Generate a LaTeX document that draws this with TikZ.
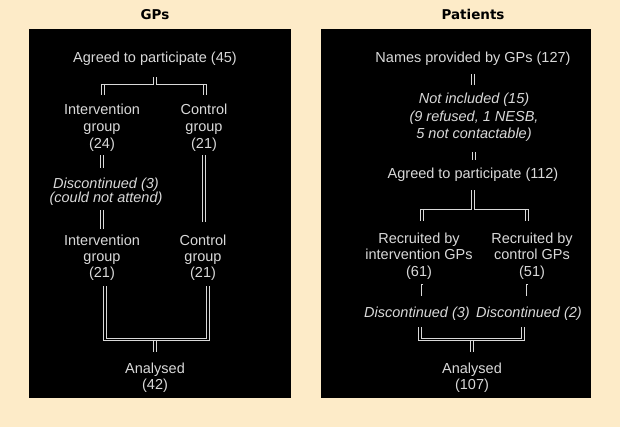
\documentclass[tikz,border=0pt]{standalone}
\usepackage{fontspec}
\setmainfont{Liberation Sans}
\newfontfamily\titlefont{DejaVu Sans}
\usetikzlibrary{calc}
\definecolor{bgc}{HTML}{FDEBC8}
\definecolor{tcol}{gray}{0.85}
\newcommand\sth{\rule{0pt}{12pt}}
\newcommand\std{\rule[-5pt]{0pt}{5pt}}
\begin{document}
\begin{tikzpicture}[x=1pt,y=-1pt,
  txt/.style={text=tcol, align=center, inner sep=0pt, anchor=north, font=\fontsize{14.5}{17}\selectfont},
  itx/.style={txt, font=\fontsize{14.5}{#1}\selectfont\itshape},
  spc/.style={txt, font=\fontsize{14.5}{#1}\selectfont},
  ttl/.style={anchor=base, inner sep=0pt, text=black, font=\titlefont\bfseries\fontsize{13.5}{16}\selectfont},
  conn/.style={draw=tcol, line width=0.8pt, double=black, double distance=1.8pt},
  hline/.style={draw=tcol, line width=1pt},
  thinl/.style={draw=tcol, line width=0.7pt}
]
\fill[bgc] (0,0) rectangle (620,427);
\fill[black] (29,29) rectangle (291,398);
\fill[black] (321,29) rectangle (591,398);

\node[ttl] (tgp) at (155,20) {GPs};
\node[ttl] (tpa) at (473,20) {Patients};

% left panel
\node[txt] (agl) at (155,50) {\sth Agreed to participate (45)\std};
\node[spc=17] (il1) at (102,102) {\sth Intervention\\group\\(24)\std};
\node[spc=17] (cl1) at (204,102) {\sth Control\\group\\(21)\std};
\node[itx=14] (dl) at (106,176) {\sth Discontinued (3)\\(could not attend)\std};
\node[spc=16] (il2) at (102,233) {\sth Intervention\\group\\(21)\std};
\node[spc=16] (cl2) at (203,233) {\sth Control\\group\\(21)\std};
\node[spc=16.5] (al) at (155,361) {\sth Analysed\\(42)\std};

\coordinate (jl1) at (155,84.6);
\coordinate (jl2) at (155,339);
\draw[hline] ($(il1.north)+(-0.7,-17)$) -- ($(cl1.north)+(2.7,-17)$);
\draw[conn] ($(il1.north)+(1,-17.4)$) -- ($(il1.north)+(1,-7)$);
\draw[conn] ($(cl1.north)+(1,-17.4)$) -- ($(cl1.north)+(1,-7)$);
\draw[conn, shorten <=10pt] (agl.south) -- (jl1);
\draw[conn, shorten <=2pt, shorten >=8pt] (il1.south) -- (il1.south |- dl.north);
\draw[conn, shorten <=3pt, shorten >=4pt] (il2.north |- dl.south) -- (il2.north);
\draw[conn, shorten <=2pt, shorten >=11pt] (cl1.south) -- (cl1.south |- cl2.north);
\draw[conn] ($(il2.south)+(3,4)$) -- ($(il2.south)+(3,57)$) -- ($(cl2.south)+(5,57)$) -- ($(cl2.south)+(5,4)$);
\draw[conn, shorten >=9pt] ($(jl2)+(0,1.5)$) -- (al.north);

% right panel
\node[txt] (np) at (473,50) {\sth Names provided by GPs (127)\std};
\node[itx=17.5] (ni) at (474,91.5) {\sth Not included (15)\\(9 refused, 1 NESB,\\5 not contactable)\std};
\node[txt] (ag2) at (473,166) {\sth Agreed to participate (112)\std};
\node[spc=16.5] (r1) at (419,231) {\sth Recruited by\\intervention GPs\\(61)\std};
\node[spc=16.5] (r2) at (532,231) {\sth Recruited by\\control GPs\\(51)\std};
\node[itx=17] (d1) at (417,305) {\sth Discontinued (3)\std};
\node[itx=17] (d2) at (529,305) {\sth Discontinued (2)\std};
\node[spc=16.5] (ar) at (472,361) {\sth Analysed\\(107)\std};

\coordinate (jr1) at (473,209.6);
\coordinate (jr2) at (472,340.5);
\draw[conn, shorten <=7pt, shorten >=6pt] (np.south) -- (np.south |- ni.north);
\draw[conn, shorten <=8.5pt, shorten >=6pt] (ni.south) -- (ni.south |- ag2.north);
\draw[hline] ($(r1.north)+(1.3,-21)$) -- ($(r2.north)+(-3.3,-21)$);
\draw[conn] ($(r1.north)+(3,-21.4)$) -- ($(r1.north)+(3,-10)$);
\draw[conn] ($(r2.north)+(-5,-21.4)$) -- ($(r2.north)+(-5,-10)$);
\draw[conn, shorten <=7pt] (ag2.south) -- (jr1);
\draw[thinl] ($(r1.south)+(4,3)$) -- ($(r1.south)+(2,3)$) -- ($(r1.south)+(2,15)$);
\draw[thinl] ($(r2.south)+(-4,3)$) -- ($(r2.south)+(-6,3)$) -- ($(r2.south)+(-6,15)$);
\draw[conn] ($(d1.south)+(3,5)$) -- ($(d1.south)+(3,17)$) -- ($(d2.south)+(-6,17)$) -- ($(d2.south)+(-6,5)$);
\draw[conn, shorten >=9pt] (jr2) -- (ar.north);
\end{tikzpicture}
\end{document}
